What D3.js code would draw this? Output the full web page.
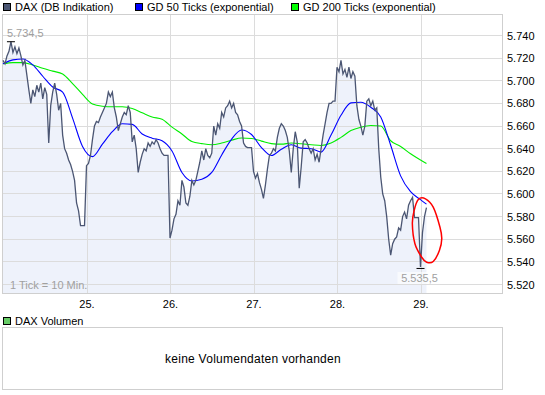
<!DOCTYPE html>
<html>
<head>
<meta charset="utf-8">
<script src="https://cdn.jsdelivr.net/npm/d3@7/dist/d3.min.js"></script>
<style>
body{margin:0;background:#fff;}
svg text{font-family:"Liberation Sans",Arial,sans-serif;}
</style>
</head>
<body>
<script>
(function(){
//price, one value per step of 20 minutes (two ticks)
var price = [
    5718, 5715, 5722, 5726, 5734.5, 5725, 5730, 5724, 5729, 5722,
    5714, 5718, 5705, 5692, 5680, 5692, 5686, 5696, 5690, 5698,
    5684, 5694, 5688, 5645, 5678, 5690, 5698, 5688, 5674, 5680,
    5652, 5640, 5636, 5630, 5626, 5620, 5612, 5592, 5585, 5572,
    5572, 5572, 5625, 5627, 5634, 5648, 5660, 5664, 5663, 5668,
    5672, 5676, 5680, 5690, 5686, 5690, 5676, 5668, 5656, 5662,
    5668, 5672, 5670, 5678, 5672, 5646, 5652, 5640, 5619, 5628,
    5635, 5640, 5638, 5645, 5642, 5646, 5644, 5648, 5645, 5640,
    5636, 5634, 5634, 5634, 5561, 5568, 5578, 5582, 5594, 5590,
    5612, 5606, 5592, 5590, 5598, 5612, 5608, 5612, 5620, 5628,
    5638, 5630, 5640, 5634, 5632, 5636, 5660, 5652, 5662, 5658,
    5672, 5668, 5676, 5678, 5682, 5676, 5680, 5672, 5670, 5664,
    5660, 5645, 5642, 5641, 5641, 5641, 5620, 5614, 5618, 5610,
    5604, 5596, 5608, 5622, 5634, 5636, 5640, 5638, 5650, 5658,
    5662, 5660, 5656, 5650, 5638, 5619, 5640, 5655, 5646, 5605,
    5624, 5646, 5648, 5645, 5640, 5636, 5640, 5630, 5635, 5628,
    5640, 5652, 5662, 5672, 5680, 5680, 5682, 5682, 5712, 5708,
    5718, 5706, 5710, 5703, 5712, 5702, 5708, 5704, 5678, 5666,
    5660, 5652, 5660, 5682, 5684, 5678, 5682, 5674, 5676, 5640,
    5615, 5600, 5594, 5580, 5560, 5546, 5556, 5560, 5562, 5570,
    5568, 5580, 5584, 5578, 5590, 5594, 5597, 5579, 5579, 5579,
    5535.5, 5566, 5580, 5588
];

//moving averages, read every 5 steps
var gdIndex = [0, 5, 10, 15, 20, 25, 30, 35, 40, 45, 50, 55, 60, 65, 70, 75, 80, 85, 90, 95,
    100, 105, 110, 115, 120, 125, 130, 135, 140, 145, 150, 155, 160, 165, 170, 175, 180, 185,
    190, 195, 200, 205, 210, 213];
var gd50 = [5715, 5718.5, 5719.3, 5714, 5704, 5694.5, 5690, 5667, 5642, 5633, 5644, 5655, 5662,
    5661.5, 5653, 5649.3, 5647, 5638, 5619, 5611.5, 5613, 5619, 5634.5, 5648.5, 5656.5, 5652.5,
    5641, 5634, 5639.5, 5643.5, 5640.5, 5640, 5637, 5652, 5669.5, 5680.5, 5681, 5676.6, 5668,
    5643, 5616, 5602, 5595, 5591];
var gd200 = [5715, 5716, 5716, 5714, 5711, 5708.5, 5706, 5697.5, 5688, 5679.5, 5677.5, 5677,
    5677, 5675.5, 5671.7, 5668, 5666, 5659, 5653, 5646.3, 5644.5, 5643.5, 5645, 5647.5, 5649.5,
    5649, 5646.7, 5644.5, 5644, 5645, 5644.3, 5643.5, 5642.8, 5645, 5650, 5656, 5659, 5660.5,
    5660, 5647, 5642, 5635.5, 5630, 5627];

//day starts in steps and their labels
var dayStart = [42, 84, 126, 168, 210];
var dayLabels = ["25.", "26.", "27.", "28.", "29."];
var yTicks = [5520, 5540, 5560, 5580, 5600, 5620, 5640, 5660, 5680, 5700, 5720, 5740];

//hand drawn highlight around the last session (step, price)
var markIdx = [208.9, 212.5, 216.4, 219.8, 220.7, 219.5, 216.4, 213.1, 210.6, 207.2, 205.9, 206.8];
var markVal = [5595.1, 5595.7, 5588.3, 5570.6, 5560.4, 5550, 5540.3, 5539.7, 5544.1, 5556, 5573.6, 5585.4];

var legendNames = ["DAX (DB Indikation)", "GD 50 Ticks (exponential)", "GD 200 Ticks (exponential)"];
var legendColors = ["#4b5673", "#0000ff", "#00ff00"];

var width = 545, height = 395;
var left = 2.5, right = 502.5, top = 14.5, bottom = 293.5;

var de = d3.formatLocale({decimal: ",", thousands: ".", grouping: [3], currency: ["", " €"]});
var fmtInt = de.format(",.0f"),
    fmtDec = de.format(",.1f");

var svg = d3.select("body")
    .append("svg")
    .attr("width", width)
    .attr("height", height);

//scales
var x = d3.scaleLinear()
    .domain([0, 252])
    .range([3, 504]);
var y = d3.scaleLinear()
    .domain([5520, 5740])
    .range([284.5, 35.5]);

//legend on top
var legend = svg.selectAll(".legend")
    .data(legendNames)
    .enter()
    .append("g")
    .attr("transform", function(d, i){ return "translate(" + [3, 148, 291][i] + ",0)"; });
legend.append("rect")
    .attr("x", 0.5).attr("y", 3.5)
    .attr("width", 7).attr("height", 7)
    .attr("fill", function(d, i){ return legendColors[i]; })
    .attr("stroke", "#000");
legend.append("text")
    .attr("x", 12).attr("y", 11)
    .attr("font-size", 11)
    .text(function(d){ return d; });
legend.filter(function(d, i){ return i > 0; })
    .attr("transform", function(d, i){ return "translate(" + [135, 291][i] + ",0)"; });

//area under the price line
var area = d3.area()
    .x(function(d, i){ return x(i); })
    .y0(bottom)
    .y1(function(d){ return y(d); });
svg.append("path")
    .datum(price)
    .attr("d", area)
    .attr("fill", "#eef2fb");

//horizontal grid
svg.selectAll(".hgrid")
    .data(yTicks)
    .enter()
    .append("line")
    .attr("x1", left).attr("x2", right)
    .attr("y1", function(d){ return y(d); })
    .attr("y2", function(d){ return y(d); })
    .attr("stroke", "#dcdcdc")
    .attr("shape-rendering", "crispEdges");

//vertical grid
svg.selectAll(".vgrid")
    .data(dayStart)
    .enter()
    .append("line")
    .attr("x1", function(d){ return Math.round(x(d)) + 0.5; })
    .attr("x2", function(d){ return Math.round(x(d)) + 0.5; })
    .attr("y1", top).attr("y2", bottom)
    .attr("stroke", "#dcdcdc")
    .attr("shape-rendering", "crispEdges");

//plot frame
svg.append("rect")
    .attr("x", left).attr("y", top)
    .attr("width", right - left).attr("height", bottom - top)
    .attr("fill", "none")
    .attr("stroke", "#cfcfcf");

//moving averages
var gdLine = d3.line()
    .x(function(d){ return x(d[0]); })
    .y(function(d){ return y(d[1]); })
    .curve(d3.curveMonotoneX);
svg.append("path")
    .datum(gdIndex.map(function(d, i){ return [d, gd200[i]]; }))
    .attr("d", gdLine)
    .attr("fill", "none")
    .attr("stroke", "#00ee00")
    .attr("stroke-width", 1.1);
svg.append("path")
    .datum(gdIndex.map(function(d, i){ return [d, gd50[i]]; }))
    .attr("d", gdLine)
    .attr("fill", "none")
    .attr("stroke", "#0000ff")
    .attr("stroke-width", 1.1);

//price line
var priceLine = d3.line()
    .x(function(d, i){ return x(i); })
    .y(function(d){ return y(d); });
svg.append("path")
    .datum(price)
    .attr("d", priceLine)
    .attr("fill", "none")
    .attr("stroke", "#4b5673")
    .attr("stroke-width", 1.3);

//high and low markers
var hiIdx = price.indexOf(d3.max(price)),
    loIdx = price.indexOf(d3.min(price));
svg.append("line")
    .attr("x1", x(hiIdx) - 4).attr("x2", x(hiIdx) + 4)
    .attr("y1", y(price[hiIdx])).attr("y2", y(price[hiIdx]))
    .attr("stroke", "#000");
svg.append("text")
    .attr("x", x(hiIdx) - 4).attr("y", y(price[hiIdx]) - 5)
    .attr("font-size", 11)
    .attr("fill", "#a0a0a0")
    .text(fmtDec(price[hiIdx]));
svg.append("line")
    .attr("x1", x(loIdx) - 4).attr("x2", x(loIdx) + 4)
    .attr("y1", y(price[loIdx]) + 1.5).attr("y2", y(price[loIdx]) + 1.5)
    .attr("stroke", "#000");
svg.append("rect")
    .attr("x", x(loIdx) - 23).attr("y", y(price[loIdx]) + 5)
    .attr("width", 42).attr("height", 12)
    .attr("fill", "#fff")
    .attr("opacity", 0.6);
svg.append("text")
    .attr("x", x(loIdx) - 1).attr("y", y(price[loIdx]) + 15)
    .attr("text-anchor", "middle")
    .attr("font-size", 11)
    .attr("fill", "#a0a0a0")
    .text(fmtDec(price[loIdx]));

svg.append("text")
    .attr("x", 10).attr("y", 289)
    .attr("font-size", 11)
    .attr("fill", "#a0a0a0")
    .text("1 Tick = 10 Min.");

//red highlight
svg.append("path")
    .datum(markIdx.map(function(d, i){ return [d, markVal[i]]; }))
    .attr("d", d3.line()
        .x(function(d){ return x(d[0]); })
        .y(function(d){ return y(d[1]); })
        .curve(d3.curveCardinalClosed))
    .attr("fill", "none")
    .attr("stroke", "#ff0000")
    .attr("stroke-width", 1.5);

//axes
var yAxis = d3.axisRight(y)
    .tickValues(yTicks)
    .tickFormat(fmtInt)
    .tickSize(0)
    .tickPadding(4.5);
svg.append("g")
    .attr("transform", "translate(" + right + ",0)")
    .call(yAxis)
    .call(function(g){ g.select(".domain").remove(); })
    .selectAll("text")
    .attr("font-size", 11)
    .attr("font-family", "Liberation Sans, Arial, sans-serif")
    .attr("fill", "#000");

var xAxis = d3.axisBottom(x)
    .tickValues(dayStart)
    .tickFormat(function(d, i){ return dayLabels[i]; })
    .tickSize(0)
    .tickPadding(6.5);
svg.append("g")
    .attr("transform", "translate(0," + bottom + ")")
    .call(xAxis)
    .call(function(g){ g.select(".domain").remove(); })
    .selectAll("text")
    .attr("font-size", 11)
    .attr("font-family", "Liberation Sans, Arial, sans-serif")
    .attr("fill", "#000");

//volume panel
svg.append("rect")
    .attr("x", 3.5).attr("y", 317.5)
    .attr("width", 7).attr("height", 7)
    .attr("fill", "#66cc66")
    .attr("stroke", "#000");
svg.append("text")
    .attr("x", 15).attr("y", 325)
    .attr("font-size", 11)
    .text("DAX Volumen");
svg.append("rect")
    .attr("x", left).attr("y", 327.5)
    .attr("width", right - left).attr("height", 62)
    .attr("fill", "#fff")
    .attr("stroke", "#cfcfcf");
svg.append("text")
    .attr("x", 253).attr("y", 363)
    .attr("text-anchor", "middle")
    .attr("font-size", 12)
    .attr("letter-spacing", 0.25)
    .text("keine Volumendaten vorhanden");

})();
</script>
</body>
</html>
